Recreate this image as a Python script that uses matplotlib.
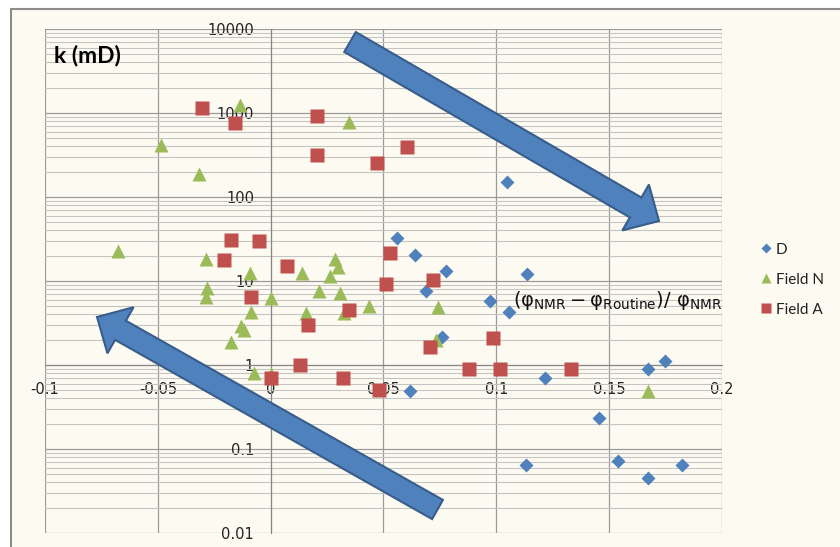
import numpy as np
import matplotlib
matplotlib.use("Agg")
import matplotlib.pyplot as plt
from matplotlib.patches import Polygon, Rectangle
from matplotlib.ticker import FixedLocator, LogLocator, NullFormatter

# porosity difference (phi_NMR - phi_Routine)/phi_NMR vs permeability k (mD)
d_x = [0.1046, 0.0558, 0.0638, 0.0778, 0.0687, 0.0758, 0.0616, 0.1135, 0.097,
       0.1055, 0.1215, 0.1672, 0.1747, 0.1454, 0.113, 0.1538, 0.1672, 0.1822]
d_k = [150, 32.5, 20.4, 13.1, 7.6, 2.15, 0.49, 12.1, 5.8,
       4.3, 0.70, 0.90, 1.12, 0.234, 0.0645, 0.072, 0.045, 0.0645]

n_x = [-0.0134, 0.0345, -0.0485, -0.0319, -0.0676, -0.0285, -0.0281, -0.0285,
       -0.009, 0.0003, -0.0088, -0.013, -0.012, -0.0177, -0.0072, 0.0003,
       0.0287, 0.030, 0.0141, 0.0263, 0.0216, 0.0307, 0.0434, 0.0158, 0.0323,
       0.074, 0.0731, 0.1672]
n_k = [1250, 780, 415, 188, 22.8, 18.3, 8.3, 6.45,
       12.5, 6.3, 4.3, 2.9, 2.6, 1.88, 0.80, 0.78,
       18.5, 14.7, 12.3, 11.6, 7.6, 7.2, 5.1, 4.2, 4.2,
       4.9, 1.98, 0.49]

a_x = [-0.0303, -0.0157, 0.0207, 0.0207, 0.0469, 0.0602, -0.0175, -0.0052,
       -0.0205, 0.0072, -0.0088, 0.0529, 0.0513, 0.0347, 0.0167, 0.0718,
       0.0704, 0.013, 0.0003, 0.032, 0.0478, 0.0984, 0.0877, 0.1015, 0.1332]
a_k = [1150, 760, 920, 316, 254, 394, 31, 30,
       17.8, 15, 6.5, 21.5, 9.2, 4.5, 3.0, 10.3,
       1.65, 1.0, 0.70, 0.70, 0.50, 2.1, 0.9, 0.9, 0.9]

x_ticks = [-0.1, -0.05, 0, 0.05, 0.1, 0.15, 0.2]
x_labels = ["-0.1", "-0.05", "0", "0.05", "0.1", "0.15", "0.2"]
y_ticks = [0.01, 0.1, 1, 10, 100, 1000, 10000]
y_labels = ["0.01", "0.1", "1", "10", "100", "1000", "10000"]

W, H = 840, 547
bg = "#FDFBF1"
blue, green, red = "#4F81BD", "#9BBB59", "#C0504D"

plt.rcParams["mathtext.fontset"] = "custom"
plt.rcParams["mathtext.rm"] = "DejaVu Sans"

fig = plt.figure(figsize=(W / 100, H / 100), dpi=100, facecolor="white")
# chart area with a grey frame (cut off at right and bottom)
fig.patches.append(Rectangle((11 / W, -0.1), 1.2, 1.1 - 9 / H, transform=fig.transFigure,
                             facecolor=bg, edgecolor="#8C8C8C", lw=1.5, zorder=-5))

ax = fig.add_axes([45 / W, 1 - 533 / H, (722 - 45) / W, (533 - 29) / H])
ax.set_facecolor(bg)
ax.set_yscale("log")
ax.set_xlim(-0.1, 0.2)
ax.set_ylim(0.01, 10000)

ax.xaxis.set_major_locator(FixedLocator(x_ticks))
ax.set_xticklabels(x_labels)
ax.yaxis.set_major_locator(FixedLocator(y_ticks))
ax.set_yticklabels(y_labels)
ax.yaxis.set_minor_locator(LogLocator(base=10, subs=np.arange(2, 10)))
ax.yaxis.set_minor_formatter(NullFormatter())

ax.grid(True, which="major", axis="both", color="#9A9A9A", lw=0.9)
ax.grid(True, which="minor", axis="y", color="#C4C4C4", lw=0.8)
ax.set_axisbelow(True)

for s in ["top", "right"]:
    ax.spines[s].set_visible(False)
ax.spines["left"].set_position(("data", 0))
ax.spines["bottom"].set_position(("data", 1))
ax.spines["left"].set_color("#868686")
ax.spines["bottom"].set_color("#868686")
ax.tick_params(axis="both", which="both", length=0, labelsize=10.5, colors="#222222")
ax.tick_params(axis="x", pad=12)
ax.tick_params(axis="y", pad=12)

ax.plot(d_x, d_k, "D", color=blue, ms=7, mec="none", label="D", zorder=3)
ax.plot(n_x, n_k, "^", color=green, ms=10.5, mec="none", label="Field N", zorder=4)
ax.plot(a_x, a_k, "s", color=red, ms=9.6, mec="none", label="Field A", zorder=5)

leg = ax.legend(loc="upper left", bbox_to_anchor=(748 / W, 1 - 229 / H),
                bbox_transform=fig.transFigure, frameon=False, handlelength=0.6,
                handletextpad=0.3, labelspacing=1.05, markerscale=0.7,
                prop={"family": "Lato", "size": 11})
for t in leg.get_texts():
    t.set_color("#222222")

fig.text(54 / W, 1 - 55 / H, "k (mD)", family="Lato", weight="bold", size=16.5,
         va="center", ha="left")

fig.text(513 / W, 1 - 300 / H,
         r"$(\mathrm{\varphi_{NMR}} - \mathrm{\varphi_{Routine}})/\ \mathrm{\varphi_{NMR}}$",
         size=14, va="center", ha="left", color="#111111")


def block_arrow(tail, tip, shaft_w, head_w, head_l):
    tail = np.array(tail, float)
    tip = np.array(tip, float)
    d = (tip - tail) / np.linalg.norm(tip - tail)
    n = np.array([-d[1], d[0]])
    base = tip - d * head_l
    pts = [tail + n * shaft_w / 2, base + n * shaft_w / 2, base + n * head_w / 2, tip,
           base - n * head_w / 2, base - n * shaft_w / 2, tail - n * shaft_w / 2]
    pts = [(p[0] / W, 1 - p[1] / H) for p in pts]
    return Polygon(pts, closed=True, transform=fig.transFigure, facecolor=blue,
                   edgecolor="#385D8A", lw=1.5, zorder=6)


fig.patches.append(block_arrow((350, 42), (659, 221), 23, 53, 27))
fig.patches.append(block_arrow((437.5, 509.5), (97, 317), 22, 53, 27))

fig.savefig("out.png", dpi=100, facecolor="white")
